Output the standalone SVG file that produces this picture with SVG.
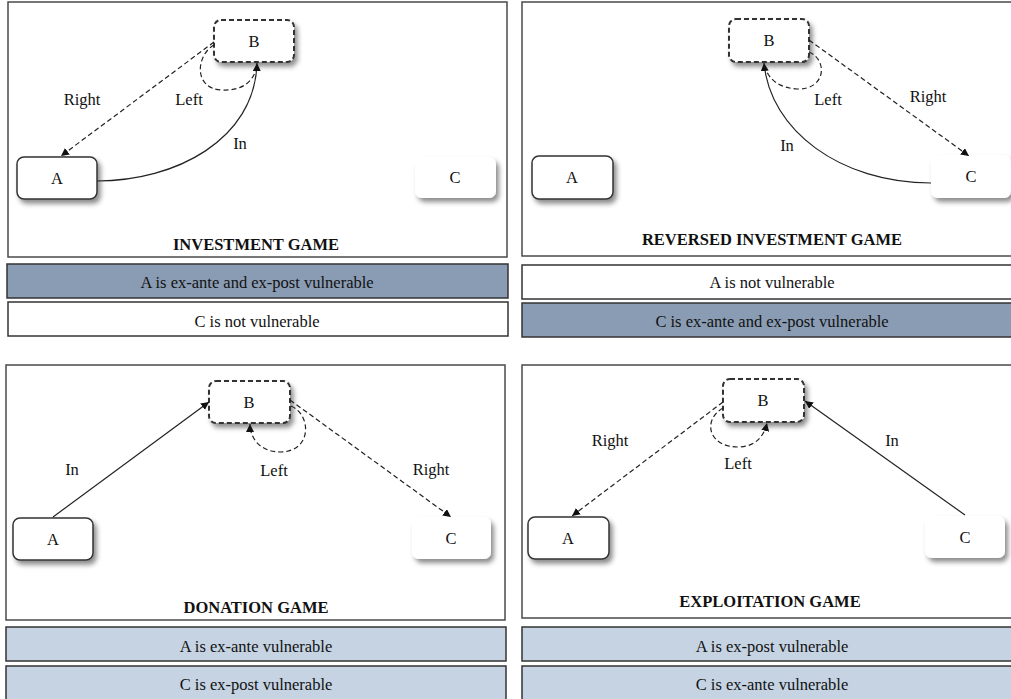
<svg xmlns="http://www.w3.org/2000/svg" width="1011" height="699" viewBox="0 0 1011 699">
<style>
text{font-family:"Liberation Serif","Times New Roman",serif;font-size:16.5px;fill:#111;text-anchor:middle}
.title{font-weight:bold}
.frame{fill:#fff;stroke:#4a4a4a;stroke-width:1.5}
.bar{stroke:#333;stroke-width:1.5}
.dark{fill:#8a9cb3}
.light{fill:#c5d3e3}
.white{fill:#fff}
.na{fill:#fff;stroke:#333;stroke-width:1.5;filter:url(#sh)}
.nb{fill:#fff;stroke:#333;stroke-width:2;stroke-dasharray:5,3;filter:url(#sh)}
.nc{fill:#fff;stroke:none;filter:url(#sh)}
.solid{fill:none;stroke:#222;stroke-width:1.2}
.dash{fill:none;stroke:#222;stroke-width:1.2;stroke-dasharray:5,3}
</style>
<defs>
<filter id="sh" x="-20%" y="-30%" width="150%" height="180%">
<feDropShadow dx="3" dy="4" stdDeviation="2.5" flood-color="#000" flood-opacity="0.45"/>
</filter>
<marker id="arr" viewBox="0 0 10 10" refX="10" refY="5" markerWidth="8" markerHeight="8" markerUnits="userSpaceOnUse" orient="auto">
<path d="M0,0 L10,5 L0,10 z" fill="#111"/>
</marker>
</defs>

<!-- Panel frames and bars -->
<g id="panel-investment">
<rect class="frame" x="8" y="2" width="499" height="255"/>
<text class="title" x="256" y="250">INVESTMENT GAME</text>
<rect class="bar dark" x="7" y="264" width="501" height="34"/>
<text x="257" y="288">A is ex-ante and ex-post vulnerable</text>
<rect class="bar white" x="8" y="302" width="500" height="34"/>
<text x="257" y="327">C is not vulnerable</text>
</g>
<g id="panel-reversed">
<rect class="frame" x="522" y="2" width="500" height="254"/>
<text class="title" x="772" y="245">REVERSED INVESTMENT GAME</text>
<rect class="bar white" x="522" y="265" width="500" height="34"/>
<text x="772" y="288">A is not vulnerable</text>
<rect class="bar dark" x="522" y="303" width="500" height="34"/>
<text x="772" y="327">C is ex-ante and ex-post vulnerable</text>
</g>
<g id="panel-donation">
<rect class="frame" x="6" y="365" width="499" height="255"/>
<text class="title" x="256" y="613">DONATION GAME</text>
<rect class="bar light" x="6" y="627" width="500" height="34"/>
<text x="256" y="652">A is ex-ante vulnerable</text>
<rect class="bar light" x="6" y="666" width="500" height="40"/>
<text x="256" y="690">C is ex-post vulnerable</text>
</g>
<g id="panel-exploitation">
<rect class="frame" x="522" y="365" width="500" height="253"/>
<text class="title" x="770" y="607">EXPLOITATION GAME</text>
<rect class="bar light" x="522" y="627" width="500" height="34"/>
<text x="772" y="652">A is ex-post vulnerable</text>
<rect class="bar light" x="522" y="666" width="500" height="40"/>
<text x="772" y="690">C is ex-ante vulnerable</text>
</g>

<!-- Nodes -->
<g id="p1-A"><rect class="na" x="17" y="157" width="80" height="42" rx="7"/><text x="57" y="184">A</text></g>
<g id="p1-B"><rect class="nb" x="214" y="20" width="80" height="42" rx="7"/><text x="254" y="47">B</text></g>
<g id="p1-C"><rect class="nc" x="415" y="157" width="81" height="41" rx="7"/><text x="455" y="183">C</text></g>

<g id="p2-A"><rect class="na" x="532" y="156" width="81" height="43" rx="7"/><text x="572" y="183">A</text></g>
<g id="p2-B"><rect class="nb" x="729" y="19" width="80" height="43" rx="7"/><text x="769" y="46">B</text></g>
<g id="p2-C"><rect class="nc" x="931" y="155" width="80" height="43" rx="7"/><text x="971" y="182">C</text></g>

<g id="p3-A"><rect class="na" x="13" y="518" width="80" height="42" rx="7"/><text x="53" y="545">A</text></g>
<g id="p3-B"><rect class="nb" x="209" y="381" width="81" height="42" rx="7"/><text x="249" y="408">B</text></g>
<g id="p3-C"><rect class="nc" x="412" y="517" width="79" height="42" rx="7"/><text x="451" y="544">C</text></g>

<g id="p4-A"><rect class="na" x="528" y="517" width="81" height="42" rx="7"/><text x="568" y="544">A</text></g>
<g id="p4-B"><rect class="nb" x="723" y="379" width="81" height="43" rx="7"/><text x="763" y="406">B</text></g>
<g id="p4-C"><rect class="nc" x="925" y="516" width="80" height="42" rx="7"/><text x="965" y="543">C</text></g>

<!-- Connectors -->
<g id="connectors">
<path class="dash" d="M214,42 L61,156" marker-end="url(#arr)"/>
<path class="dash" d="M214,45 C196,55 193,89 222,90 C242,91 252,82 256,70"/>
<path class="solid" d="M97,181 C175,181 255,140 257,63" marker-end="url(#arr)"/>

<path class="dash" d="M809,40 L969,156" marker-end="url(#arr)"/>
<path class="dash" d="M809,52 C828,60 826,90 797,89 C780,88 770,80 766,70"/>
<path class="solid" d="M931,183 C840,183 770,130 764,63" marker-end="url(#arr)"/>

<path class="solid" d="M53,517 L209,402" marker-end="url(#arr)"/>
<path class="dash" d="M290,400 L451,517" marker-end="url(#arr)"/>
<path class="dash" d="M291,406 C312,415 312,452 280,452 C262,452 250,440 250,424" marker-end="url(#arr)"/>

<path class="dash" d="M723,402 L572,516" marker-end="url(#arr)"/>
<path class="solid" d="M965,515 L805,401" marker-end="url(#arr)"/>
<path class="dash" d="M723,408 C702,420 708,448 740,447 C756,446 764,436 767,423" marker-end="url(#arr)"/>
</g>

<!-- Connector labels -->
<g id="labels">
<text x="82" y="105">Right</text>
<text x="189" y="105">Left</text>
<text x="240" y="149">In</text>
<text x="828" y="105">Left</text>
<text x="928" y="102">Right</text>
<text x="787" y="151">In</text>
<text x="72" y="475">In</text>
<text x="274" y="476">Left</text>
<text x="431" y="475">Right</text>
<text x="610" y="446">Right</text>
<text x="738" y="469">Left</text>
<text x="892" y="446">In</text>
</g>
</svg>
